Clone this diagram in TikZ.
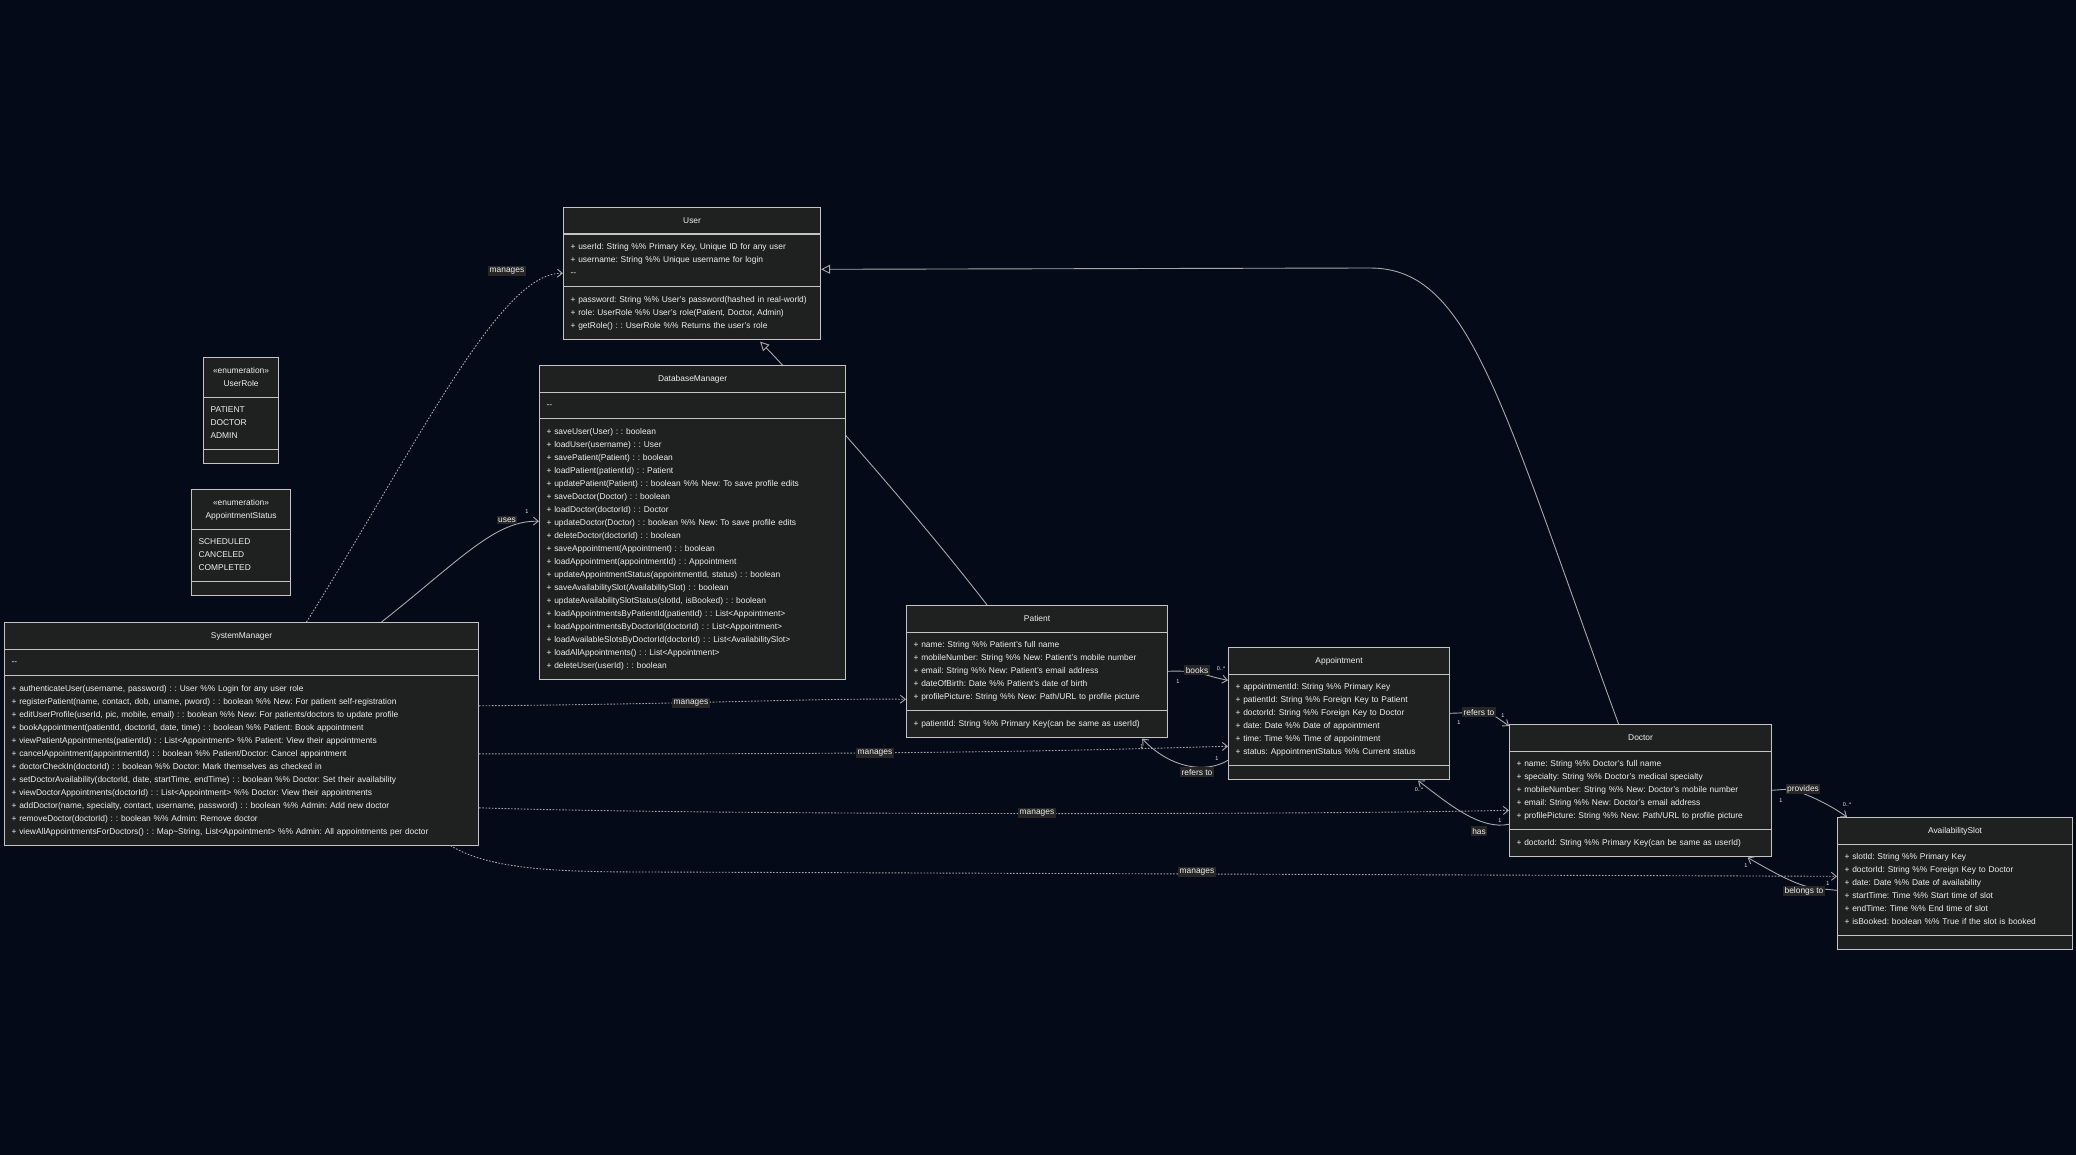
\documentclass[tikz,border=0pt]{standalone}
\usepackage{fontspec}
\setmainfont{Liberation Sans}
\usetikzlibrary{shapes.multipart, arrows.meta, calc}
\definecolor{bgcol}{HTML}{050A18}
\definecolor{boxfill}{HTML}{1F2020}
\definecolor{boxline}{HTML}{C4C4C4}
\definecolor{edgecol}{HTML}{A8A8A8}
\definecolor{txtcol}{HTML}{F0F0F0}
\definecolor{lblfill}{HTML}{262626}
\pgfdeclarelayer{back}
\pgfdeclarelayer{under}
\pgfsetlayers{back,under,main}
\newcommand\umlfont{\fontsize{8.4}{13}\selectfont\frenchspacing}
\newcommand\multfont{\fontsize{5.5}{6}\selectfont}
\newcommand\ctitle[1]{{\centering\strut #1\strut\par}}
\tikzset{
    umlclass/.style={rectangle split, rectangle split parts=3,
        rectangle split ignore empty parts=false,
        draw=boxline, line width=1.1pt, fill=boxfill, text=txtcol,
        font=\umlfont, anchor=north west, inner xsep=7pt, inner ysep=6.2pt,
        align=left},
    assoc/.style={draw=edgecol, line width=0.9pt, -{Straight Barb[length=5pt, width=8pt]}},
    dep/.style={assoc, dash pattern=on 1.6pt off 1.6pt},
    inherit/.style={draw=edgecol, line width=0.9pt, -{Triangle[open, length=9pt, width=9pt, fill=bgcol]}},
    lbl/.style={fill=lblfill, text=txtcol, font=\umlfont, inner sep=1.5pt},
    mult/.style={text=txtcol, font=\multfont, inner sep=0pt}
}
\begin{document}
\begin{tikzpicture}[x=1pt, y=-1pt]
\begin{pgfonlayer}{back}
    \fill[bgcol] (0,0) rectangle (2076,1155);
\end{pgfonlayer}
\useasboundingbox (0,0) rectangle (2076,1155);

% classes
\node[umlclass, text width=243pt] (user) at (563,207) {\ctitle{User}
    \nodepart{two}\strut + userId: String \%\% Primary Key, Unique ID for any user\\
    + username: String \%\% Unique username for login\\
    -{}-\strut
    \nodepart{three}\strut + password: String \%\% User's password(hashed in real-world)\\
    + role: UserRole \%\% User's role(Patient, Doctor, Admin)\\
    + getRole() : : UserRole \%\% Returns the user's role\strut};

\node[umlclass, text width=61pt] (userrole) at (203,357) {\ctitle{«enumeration»\\UserRole}
    \nodepart{two}\strut PATIENT\\
    DOCTOR\\
    ADMIN\strut
    \nodepart{three}};

\node[umlclass, text width=85pt] (apptstatus) at (191,489) {\ctitle{«enumeration»\\AppointmentStatus}
    \nodepart{two}\strut SCHEDULED\\
    CANCELED\\
    COMPLETED\strut
    \nodepart{three}};

\node[umlclass, text width=292pt] (dbmanager) at (539,365) {\ctitle{DatabaseManager}
    \nodepart{two}\strut -{}-\strut
    \nodepart{three}\strut + saveUser(User) : : boolean\\
    + loadUser(username) : : User\\
    + savePatient(Patient) : : boolean\\
    + loadPatient(patientId) : : Patient\\
    + updatePatient(Patient) : : boolean \%\% New: To save profile edits\\
    + saveDoctor(Doctor) : : boolean\\
    + loadDoctor(doctorId) : : Doctor\\
    + updateDoctor(Doctor) : : boolean \%\% New: To save profile edits\\
    + deleteDoctor(doctorId) : : boolean\\
    + saveAppointment(Appointment) : : boolean\\
    + loadAppointment(appointmentId) : : Appointment\\
    + updateAppointmentStatus(appointmentId, status) : : boolean\\
    + saveAvailabilitySlot(AvailabilitySlot) : : boolean\\
    + updateAvailabilitySlotStatus(slotId, isBooked) : : boolean\\
    + loadAppointmentsByPatientId(patientId) : : List<Appointment>\\
    + loadAppointmentsByDoctorId(doctorId) : : List<Appointment>\\
    + loadAvailableSlotsByDoctorId(doctorId) : : List<AvailabilitySlot>\\
    + loadAllAppointments() : : List<Appointment>\\
    + deleteUser(userId) : : boolean\strut};

\node[umlclass, text width=460pt] (sysmanager) at (4,622) {\ctitle{SystemManager}
    \nodepart{two}\strut -{}-\strut
    \nodepart{three}\strut + authenticateUser(username, password) : : User \%\% Login for any user role\\
    + registerPatient(name, contact, dob, uname, pword) : : boolean \%\% New: For patient self-registration\\
    + editUserProfile(userId, pic, mobile, email) : : boolean \%\% New: For patients/doctors to update profile\\
    + bookAppointment(patientId, doctorId, date, time) : : boolean \%\% Patient: Book appointment\\
    + viewPatientAppointments(patientId) : : List<Appointment> \%\% Patient: View their appointments\\
    + cancelAppointment(appointmentId) : : boolean \%\% Patient/Doctor: Cancel appointment\\
    + doctorCheckIn(doctorId) : : boolean \%\% Doctor: Mark themselves as checked in\\
    + setDoctorAvailability(doctorId, date, startTime, endTime) : : boolean \%\% Doctor: Set their availability\\
    + viewDoctorAppointments(doctorId) : : List<Appointment> \%\% Doctor: View their appointments\\
    + addDoctor(name, specialty, contact, username, password) : : boolean \%\% Admin: Add new doctor\\
    + removeDoctor(doctorId) : : boolean \%\% Admin: Remove doctor\\
    + viewAllAppointmentsForDoctors() : : Map\textasciitilde String, List<Appointment> \%\% Admin: All appointments per doctor\strut};

\node[umlclass, text width=247pt] (patient) at (906,605) {\ctitle{Patient}
    \nodepart{two}\strut + name: String \%\% Patient's full name\\
    + mobileNumber: String \%\% New: Patient's mobile number\\
    + email: String \%\% New: Patient's email address\\
    + dateOfBirth: Date \%\% Patient's date of birth\\
    + profilePicture: String \%\% New: Path/URL to profile picture\strut
    \nodepart{three}\strut + patientId: String \%\% Primary Key(can be same as userId)\strut};

\node[umlclass, text width=207pt] (appointment) at (1228,647) {\ctitle{Appointment}
    \nodepart{two}\strut + appointmentId: String \%\% Primary Key\\
    + patientId: String \%\% Foreign Key to Patient\\
    + doctorId: String \%\% Foreign Key to Doctor\\
    + date: Date \%\% Date of appointment\\
    + time: Time \%\% Time of appointment\\
    + status: AppointmentStatus \%\% Current status\strut
    \nodepart{three}};

\node[umlclass, text width=248pt] (doctor) at (1509,724) {\ctitle{Doctor}
    \nodepart{two}\strut + name: String \%\% Doctor's full name\\
    + specialty: String \%\% Doctor's medical specialty\\
    + mobileNumber: String \%\% New: Doctor's mobile number\\
    + email: String \%\% New: Doctor's email address\\
    + profilePicture: String \%\% New: Path/URL to profile picture\strut
    \nodepart{three}\strut + doctorId: String \%\% Primary Key(can be same as userId)\strut};

\node[umlclass, text width=221pt] (slot) at (1837,817) {\ctitle{AvailabilitySlot}
    \nodepart{two}\strut + slotId: String \%\% Primary Key\\
    + doctorId: String \%\% Foreign Key to Doctor\\
    + date: Date \%\% Date of availability\\
    + startTime: Time \%\% Start time of slot\\
    + endTime: Time \%\% End time of slot\\
    + isBooked: boolean \%\% True if the slot is booked\strut
    \nodepart{three}};

% inheritance
\begin{pgfonlayer}{under}
    \draw[inherit] ($(patient.north)+(-50,0)$) .. controls (910,505) and (790,372) .. ($(user.south)+(68,2)$);
\end{pgfonlayer}
\draw[inherit] ($(doctor.north)+(-22,0)$) .. controls (1500,400) and (1470,268) .. (1370,268) -- ($(user.east)+(0,-4)$);

% SystemManager links
\draw[dep] ($(sysmanager.north)+(65,0)$) .. controls (420,440) and (500,272) .. (user.west);
\draw[assoc] ($(sysmanager.north)+(140,0)$) .. controls (460,560) and (495,520) .. ($(dbmanager.west)+(0,-1)$);
\draw[dep] ($(sysmanager.east)+(0,-28)$) .. controls (700,704) and (820,698) .. ($(patient.west)+(0,28)$);
\draw[dep] ($(sysmanager.east)+(0,20)$) .. controls (1000,755) and (1150,748) .. ($(appointment.west)+(0,33)$);
\draw[dep] ($(sysmanager.east)+(0,74)$) .. controls (700,815) and (1300,815) .. ($(doctor.west)+(0,20)$);
\draw[dep] ($(sysmanager.south)+(209,0)$) .. controls (490,870) and (560,872) .. (650,872) -- ($(slot.west)+(0,-7)$);

\node[lbl] (lblUser) at (507,271) {manages};
\node[lbl] (lblDb) at (507,520) {uses};
\node[mult] (mDb) at (527,512) {1};
\node[lbl] (lblPatient) at (691,703) {manages};
\node[lbl] (lblAppt) at (875,753) {manages};
\node[lbl] (lblDoctor) at (1037,813) {manages};
\node[lbl] (lblSlot) at (1197,872) {manages};

% associations
\draw[assoc] (patient.east) .. controls (1200,670) and (1205,676) .. ($(appointment.west)+(0,-33)$);
\node[lbl] (lblBooks) at (1197,670) {books};
\node[mult] (mBooksA) at (1178,682) {1};
\node[mult] (mBooksB) at (1221,669) {0..*};

\draw[assoc] ($(appointment.west)+(0,47)$) .. controls (1205,774) and (1170,768) .. ($(patient.south)+(105,1)$);
\node[lbl] (lblRefP) at (1197,772) {refers to};
\node[mult] (mRefPA) at (1217,759) {1};
\node[mult] (mRefPB) at (1142,747) {1};

\draw[assoc] (appointment.east) -- (1485,712) .. controls (1495,716) .. ($(doctor.north west)+(0,2)$);
\node[lbl] (lblRefD) at (1479,712) {refers to};
\node[mult] (mRefDA) at (1459,723) {1};
\node[mult] (mRefDB) at (1503,716) {1};

\draw[assoc] ($(doctor.west)+(0,34)$) .. controls (1480,830) and (1450,805) .. ($(appointment.south)+(79,1)$);
\node[lbl] (lblHas) at (1479,831) {has};
\node[mult] (mHasA) at (1500,821) {1};
\node[mult] (mHasB) at (1419,790) {0..*};

\draw[assoc] (doctor.east) -- (1790,789) .. controls (1810,795) and (1830,805) .. ($(slot.north west)+(10,0)$);
\node[lbl] (lblProv) at (1803,789) {provides};
\node[mult] (mProvA) at (1781,801) {1};
\node[mult] (mProvB) at (1847,805) {0..*};

\draw[assoc] ($(slot.west)+(0,7)$) -- (1823,889) .. controls (1800,889) and (1770,870) .. ($(doctor.south)+(107,1)$);
\node[lbl] (lblBelongs) at (1804,891) {belongs to};
\node[mult] (mBelA) at (1746,866) {1};
\node[mult] (mBelB) at (1828,884) {1};
\end{tikzpicture}
\end{document}
